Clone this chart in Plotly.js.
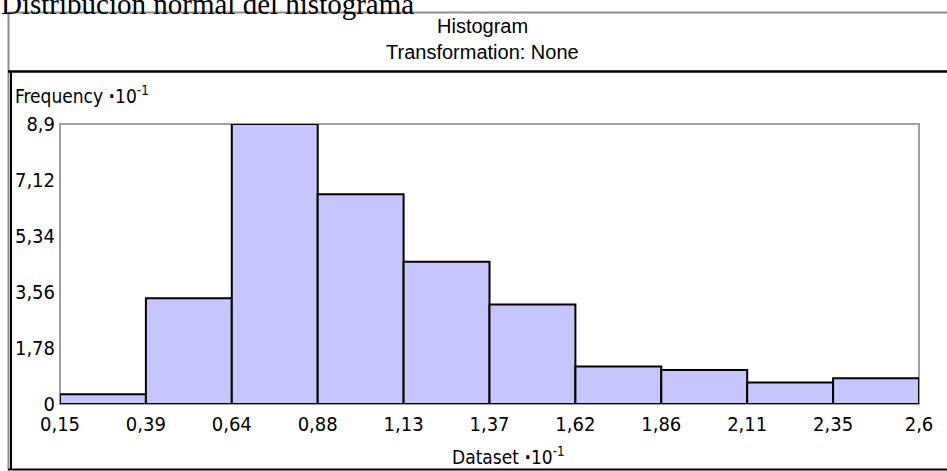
<!DOCTYPE html>
<html>
<head>
<meta charset="utf-8">
<script src="https://cdn.plot.ly/plotly-3.0.1.min.js"></script>
<style>
  html, body { margin: 0; padding: 0; background: #ffffff; }
  #chart { width: 947px; height: 471px; }
</style>
</head>
<body>
<div id="chart"></div>
<script>
// ---- data ----
const binEdges = [0.15, 0.395, 0.64, 0.885, 1.13, 1.375, 1.62, 1.865, 2.11, 2.355, 2.6];
const edgeLabels = ["0,15", "0,39", "0,64", "0,88", "1,13", "1,37", "1,62", "1,86", "2,11", "2,35", "2,6"];
const frequencies = [0.31, 3.36, 8.9, 6.67, 4.52, 3.16, 1.19, 1.08, 0.68, 0.82];
const yTickValues = [0, 1.78, 3.56, 5.34, 7.12, 8.9];
const yTickLabels = ["0", "1,78", "3,56", "5,34", "7,12", "8,9"];
const pageTitle = "Distribución normal del histograma";
const chartTitle = "Histogram";
const chartSubtitle = "Transformation: None";
const yLabel = "Frequency <b>·</b>10<sup>-1</sup>";
const xLabel = "Dataset <b>·</b>10<sup>-1</sup>";

// ---- geometry helpers (plot area in pixels) ----
const W = 947, H = 471;
const L = 60, R = 919, T = 124, B = 404;
const px = x => (x - L) / (R - L);
const py = y => (B - y) / (B - T);

const centers = frequencies.map((_, i) => (binEdges[i] + binEdges[i + 1]) / 2);
const widths = frequencies.map((_, i) => binEdges[i + 1] - binEdges[i]);

const trace = {
  type: 'bar',
  x: centers,
  y: frequencies,
  width: widths,
  marker: { color: '#c6c6fc', line: { color: '#000000', width: 2 } },
  cliponaxis: false,
  hoverinfo: 'skip'
};

const sansFamily = 'DejaVu Sans Condensed, Liberation Sans, sans-serif';
const tickFont = { family: sansFamily, size: 20, color: '#000000' };

const layout = {
  width: W, height: H,
  margin: { l: L, r: W - R, t: T, b: H - B, pad: 0 },
  paper_bgcolor: '#ffffff',
  plot_bgcolor: '#ffffff',
  showlegend: false,
  bargap: 0,
  xaxis: {
    range: [binEdges[0], binEdges[binEdges.length - 1]],
    tickvals: binEdges,
    ticktext: edgeLabels,
    ticks: '',
    showgrid: false,
    zeroline: false,
    showline: false,
    tickfont: tickFont,
    ticklabelstandoff: 6
  },
  yaxis: {
    range: [0, 8.9],
    tickvals: yTickValues,
    ticktext: yTickLabels,
    ticks: '',
    showgrid: false,
    zeroline: false,
    showline: false,
    tickfont: tickFont,
    ticklabelstandoff: 4
  },
  shapes: [
    // plot frame (gray)
    { type: 'rect', xref: 'paper', yref: 'paper', x0: 0, x1: 1, y0: 0, y1: 1,
      line: { color: '#a0a0a0', width: 2 }, layer: 'below' },
    // outer gray box (header)
    { type: 'line', xref: 'paper', yref: 'paper', x0: px(8), x1: px(950), y0: py(12.5), y1: py(12.5),
      line: { color: '#8c8c8c', width: 2 } },
    { type: 'line', xref: 'paper', yref: 'paper', x0: px(8.5), x1: px(8.5), y0: py(12), y1: py(470),
      line: { color: '#8c8c8c', width: 2 } },
    // black separator and lower box
    { type: 'line', xref: 'paper', yref: 'paper', x0: px(8), x1: px(950), y0: py(71.5), y1: py(71.5),
      line: { color: '#000000', width: 2.5 } },
    { type: 'line', xref: 'paper', yref: 'paper', x0: px(11), x1: px(11), y0: py(71), y1: py(470),
      line: { color: '#000000', width: 2 } },
    { type: 'line', xref: 'paper', yref: 'paper', x0: px(8), x1: px(950), y0: py(469.5), y1: py(469.5),
      line: { color: '#000000', width: 2 } }
  ],
  annotations: [
    { text: pageTitle, xref: 'paper', yref: 'paper', x: px(0), y: py(21),
      xanchor: 'left', yanchor: 'bottom', showarrow: false, borderpad: 0,
      font: { family: 'Liberation Serif', size: 29, color: '#000000' } },
    { text: chartTitle, xref: 'paper', yref: 'paper', x: px(482), y: py(38),
      xanchor: 'center', yanchor: 'bottom', showarrow: false, borderpad: 0,
      font: { family: 'Liberation Sans', size: 20, color: '#000000' } },
    { text: chartSubtitle, xref: 'paper', yref: 'paper', x: px(482), y: py(64),
      xanchor: 'center', yanchor: 'bottom', showarrow: false, borderpad: 0,
      font: { family: 'Liberation Sans', size: 20, color: '#000000' } },
    { text: yLabel, xref: 'paper', yref: 'paper', x: px(14), y: py(108),
      xanchor: 'left', yanchor: 'bottom', showarrow: false, borderpad: 0,
      font: { family: sansFamily, size: 19, color: '#000000' } },
    { text: xLabel, xref: 'paper', yref: 'paper', x: px(451), y: py(469),
      xanchor: 'left', yanchor: 'bottom', showarrow: false, borderpad: 0,
      font: { family: sansFamily, size: 19, color: '#000000' } }
  ]
};

Plotly.newPlot('chart', [trace], layout, { displayModeBar: false, staticPlot: true });
</script>
</body>
</html>
